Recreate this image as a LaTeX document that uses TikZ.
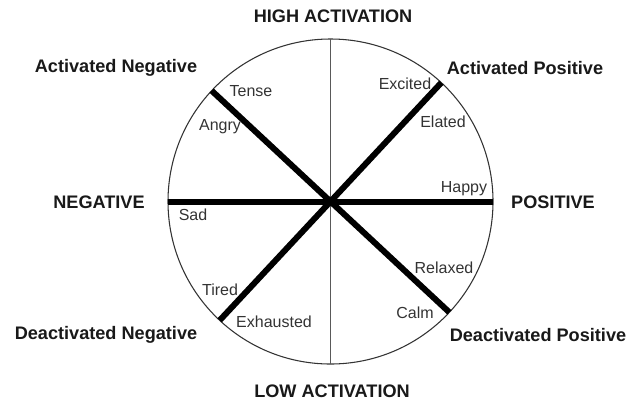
\documentclass[tikz,border=0pt]{standalone}
\usepackage{fontspec}
\setmainfont{Liberation Sans}
\usepackage{tikz}
\usetikzlibrary{positioning}
\definecolor{inkgray}{HTML}{333333}
\tikzstyle{axis} = [line width=0.8pt, draw=black!65]
\tikzstyle{spoke} = [line width=4.5pt, black]
\tikzstyle{pole} = [font=\fontsize{13.6}{16}\selectfont\bfseries, text=black!90, inner sep=0pt]
\tikzstyle{mood} = [font=\fontsize{12}{14}\selectfont, text=inkgray, inner sep=0pt]

\begin{document}
\begin{tikzpicture}[x=0.75pt,y=-0.75pt]
    \useasboundingbox (0,0) rectangle (630,404);
    \node[circle, draw=black!80, line width=0.8pt, minimum size=243.75pt, inner sep=0pt, outer sep=0pt] (wheel) at (330.5,201.5) {};
    \draw[axis] (wheel.north) -- (wheel.south);
    \draw[spoke] (wheel.west) -- (wheel.east);
    \draw[spoke] (wheel.137) -- (wheel.-43);
    \draw[spoke] (wheel.47) -- (wheel.227);
    % quadrant and axis names
    \node[pole] (high) at (333,16) {HIGH ACTIVATION};
    \node[pole] (low) at (332,391) {LOW ACTIVATION};
    \node[pole] (neg) at (99,202) {NEGATIVE};
    \node[pole] (pos) at (553,202) {POSITIVE};
    \node[pole] (actneg) at (116,68) {Activated Negative};
    \node[pole] (actpos) at (525,68) {Activated Positive};
    \node[pole] (deactneg) at (106,335) {Deactivated Negative};
    \node[pole] (deactpos) at (538,335) {Deactivated Positive};
    % moods
    \foreach \name/\x/\y in {Tense/251/91, Angry/220/127, Excited/405/84, Elated/443/122,
                             Happy/464/189, Sad/193/215, Relaxed/444/268, Calm/415/313,
                             Tired/220/290, Exhausted/274/322}{
        \node[mood] (\name) at (\x,\y) {\name};
    }
\end{tikzpicture}
\end{document}
